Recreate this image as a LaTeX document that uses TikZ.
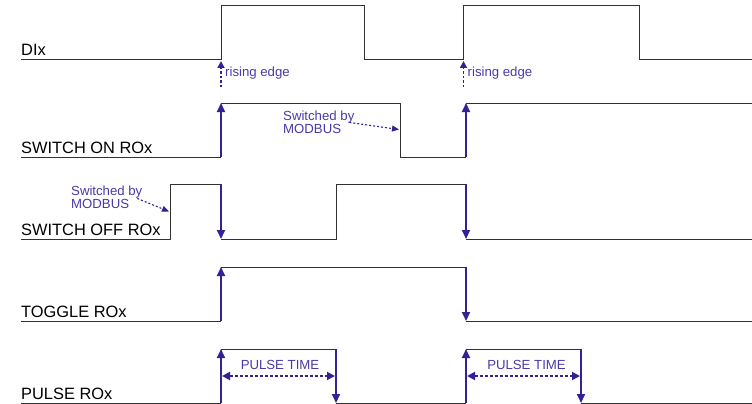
\documentclass[tikz,border=0pt]{standalone}
\usepackage{fontspec}
\setmainfont{Liberation Sans}
\usetikzlibrary{arrows.meta}
\definecolor{sigblue}{RGB}{50,34,150}
\definecolor{txtblue}{RGB}{72,58,168}
\definecolor{sigline}{RGB}{50,50,50}
\begin{document}
\begin{tikzpicture}[x=1pt,y=-1pt,
  sig/.style={draw=sigline, line width=1pt, line join=miter},
  edgearrow/.style={draw=sigblue, line width=2pt, -{Triangle[length=9pt,width=8pt]}},
  risenote/.style={draw=sigblue, line width=1.8pt, dash pattern=on 2.5pt off 2pt, -{Triangle[length=7pt,width=7pt]}},
  modnote/.style={draw=sigblue, line width=1.1pt, dash pattern=on 2pt off 2pt, -{Triangle[length=7pt,width=6pt]}},
  pulsenote/.style={draw=sigblue, line width=1.8pt, dash pattern=on 3pt off 2pt, {Triangle[length=8pt,width=8pt]}-{Triangle[length=8pt,width=8pt]}},
  lab/.style={font=\fontsize{16.4}{18}\selectfont, anchor=base west, inner sep=0pt, text=black},
  blab/.style={font=\fontsize{13.2}{14}\selectfont, anchor=base west, inner sep=0pt, text=txtblue},
  clab/.style={font=\fontsize{13.2}{14}\selectfont, anchor=base, inner sep=0pt, text=txtblue}]
\useasboundingbox (0,0) rectangle (752,404);

% labels
\node[lab] (lDI)   at (21,56)  {DIx};
\node[lab] (lON)   at (21,153) {SWITCH ON ROx};
\node[lab] (lOFF)  at (21,235) {SWITCH OFF ROx};
\node[lab] (lTOG)  at (21,317) {TOGGLE ROx};
\node[lab] (lPUL)  at (21,399) {PULSE ROx};

% DIx
\draw[sig] (21,60) -- (221,60) -- (221,6) -- (364.5,6) -- (364.5,60) -- (463.5,60) -- (463.5,6) -- (639.5,6) -- (639.5,60) -- (752,60);
\coordinate (dA) at (221,61);  \coordinate (dAs) at (221,87);
\coordinate (dB) at (463.5,61); \coordinate (dBs) at (463.5,87);
\draw[risenote] (dAs) -- (dA);
\draw[risenote] (dBs) -- (dB);
\node[blab] (re1) at (225,76.5) {rising edge};
\node[blab] (re2) at (467.5,76.5) {rising edge};

% SWITCH ON ROx
\coordinate (onL1) at (221,157); \coordinate (onH1) at (221,103);
\coordinate (onL2) at (466,157); \coordinate (onH2) at (466,103);
\draw[sig] (21,157) -- (onL1);
\draw[sig] (onH1) -- (400,103) -- (400,157) -- (onL2);
\draw[sig] (onH2) -- (752,103);
\draw[edgearrow] (onL1) -- (onH1);
\draw[edgearrow] (onL2) -- (onH2);
\node[blab] (m1a) at (283,120) {Switched by};
\node[blab] (m1b) at (283,133) {MODBUS};
\coordinate (m1t) at (399,129.5);
\draw[modnote] (m1b.east) ++(8,-6) coordinate (m1s) (m1s) -- (m1t);

% SWITCH OFF ROx
\coordinate (ofH1) at (221,184); \coordinate (ofL1) at (221,239);
\coordinate (ofH2) at (466,184); \coordinate (ofL2) at (466,239);
\draw[sig] (21,239) -- (170,239) -- (170,184) -- (ofH1);
\draw[sig] (ofL1) -- (336,239) -- (336,184) -- (ofH2);
\draw[sig] (ofL2) -- (752,239);
\draw[edgearrow] (ofH1) -- (ofL1);
\draw[edgearrow] (ofH2) -- (ofL2);
\node[blab] (m2a) at (71,195) {Switched by};
\node[blab] (m2b) at (71,208) {MODBUS};
\coordinate (m2t) at (169,211.5);
\draw[modnote] (m2b.east) ++(8,-5) coordinate (m2s) (m2s) -- (m2t);

% TOGGLE ROx
\coordinate (tgL1) at (221,321); \coordinate (tgH1) at (221,267);
\coordinate (tgH2) at (466,267); \coordinate (tgL2) at (466,321);
\draw[sig] (21,321) -- (tgL1);
\draw[sig] (tgH1) -- (tgH2);
\draw[sig] (tgL2) -- (752,321);
\draw[edgearrow] (tgL1) -- (tgH1);
\draw[edgearrow] (tgH2) -- (tgL2);

% PULSE ROx
\coordinate (puL1) at (221,403); \coordinate (puH1) at (221,349);
\coordinate (puH2) at (336,349); \coordinate (puL2) at (336,403);
\coordinate (puL3) at (466,403); \coordinate (puH3) at (466,349);
\coordinate (puH4) at (581,349); \coordinate (puL4) at (581,403);
\draw[sig] (21,403) -- (puL1);
\draw[sig] (puH1) -- (puH2);
\draw[sig] (puL2) -- (puL3);
\draw[sig] (puH3) -- (puH4);
\draw[sig] (puL4) -- (752,403);
\draw[edgearrow] (puL1) -- (puH1);
\draw[edgearrow] (puH2) -- (puL2);
\draw[edgearrow] (puL3) -- (puH3);
\draw[edgearrow] (puH4) -- (puL4);
\coordinate (pt1a) at (222,376); \coordinate (pt1b) at (335,376);
\coordinate (pt2a) at (467,376); \coordinate (pt2b) at (580,376);
\draw[pulsenote] (pt1a) -- (pt1b);
\draw[pulsenote] (pt2a) -- (pt2b);
\node[clab] (pl1) at (280,369.5) {PULSE TIME};
\node[clab] (pl2) at (526.5,369.5) {PULSE TIME};
\end{tikzpicture}
\end{document}
